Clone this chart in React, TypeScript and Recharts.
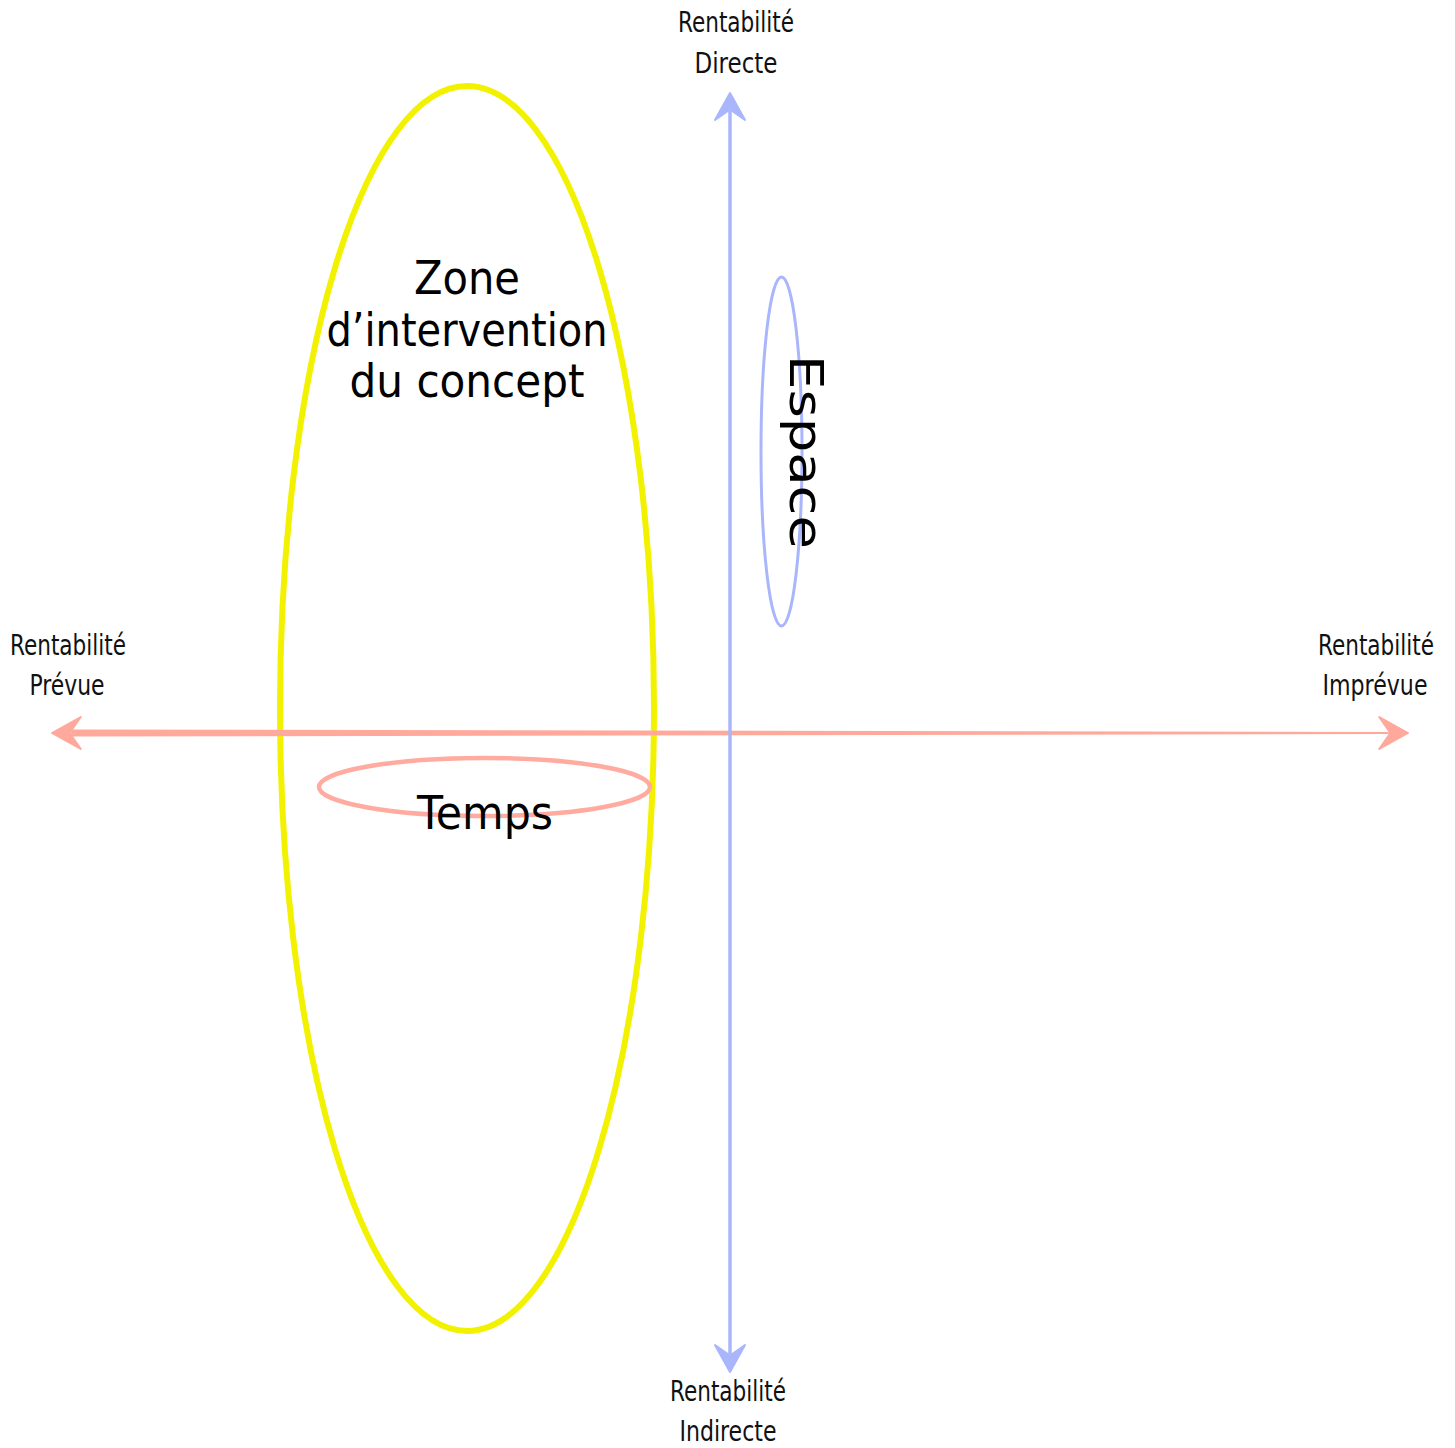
import React from 'react';
import {
  ComposedChart,
  ReferenceArea,
  ReferenceLine,
  Scatter,
  XAxis,
  YAxis,
} from 'recharts';

// Canvas-like value space: x 0..1455 left→right, y 0..1448 top→bottom
const X_DOMAIN: [number, number] = [0, 1455];
const Y_DOMAIN: [number, number] = [0, 1448];

// Two axes of the diagram (start → end, both ends carry an arrow head)
const axesLines = [
  { id: 'temps', x1: 52, y1: 733, x2: 1408, y2: 733 },
  { id: 'espace', x1: 730, y1: 93, x2: 730, y2: 1372 },
];

// Ellipse zones, given by their bounding box
const zones = [
  { id: 'concept', x1: 280, x2: 654, y1: 86, y2: 1331 },
  { id: 'temps', x1: 319, x2: 650, y1: 758, y2: 816 },
  { id: 'espace', x1: 761, x2: 802, y1: 277, y2: 626 },
];

// Pole labels at the arrow ends
const poleLabels = [
  { x: 736, y: 32, text: 'Rentabilité' },
  { x: 736, y: 73, text: 'Directe' },
  { x: 68, y: 655, text: 'Rentabilité' },
  { x: 67, y: 695, text: 'Prévue' },
  { x: 1376, y: 655, text: 'Rentabilité' },
  { x: 1375, y: 695, text: 'Imprévue' },
  { x: 728, y: 1401, text: 'Rentabilité' },
  { x: 728, y: 1441, text: 'Indirecte' },
];

// Zone titles
const zoneLabels = [
  { x: 467, y: 294, text: 'Zone', rotate: 0 },
  { x: 467, y: 346, text: 'd\u2019intervention', rotate: 0 },
  { x: 467, y: 397, text: 'du concept', rotate: 0 },
  { x: 485, y: 829, text: 'Temps', rotate: 0 },
  { x: 790, y: 452, text: 'Espace', rotate: 90 },
];

// rendered width of each text, px
const textWidths: Record<string, number> = {
  Rentabilité: 116,
  Directe: 83,
  Prévue: 75,
  Imprévue: 105,
  Indirecte: 97,
  Zone: 106,
  'd\u2019intervention': 281,
  'du concept': 235,
  Temps: 136,
  Espace: 194,
};

const zoneStyle: Record<string, { stroke: string; width: number }> = {
  concept: { stroke: '#f2f200', width: 6 },
  temps: { stroke: '#ffab9f', width: 4.5 },
  espace: { stroke: '#a9b6fb', width: 3 },
};

const axisStyle: Record<string, { color: string; start: number; end: number; head: number }> = {
  temps: { color: '#ffa99c', start: 7, end: 2, head: 16 },
  espace: { color: '#a9b6fb', start: 3.5, end: 3.5, head: 15 },
};

const POLE_FONT = "'Liberation Sans Narrow', 'DejaVu Sans Condensed', sans-serif";
const ZONE_FONT = "'DejaVu Sans', Inter, sans-serif";

function headPath(tx: number, ty: number, ux: number, uy: number, size: number) {
  // ux,uy: unit vector pointing to the tip
  const px = -uy;
  const py = ux;
  const back = size * 1.8;
  const notch = size * 1.1;
  const bx = tx - ux * back;
  const by = ty - uy * back;
  const nx = tx - ux * notch;
  const ny = ty - uy * notch;
  return `M${tx},${ty} L${bx + px * size},${by + py * size} L${nx},${ny} L${bx - px * size},${by - py * size} Z`;
}

function ArrowAxis(props: any) {
  const { x1, y1, x2, y2, id } = props;
  const st = axisStyle[id];
  const len = Math.hypot(x2 - x1, y2 - y1);
  const ux = (x2 - x1) / len;
  const uy = (y2 - y1) / len;
  const px = -uy;
  const py = ux;
  const inset = st.head * 1.2;
  const sx = x1 + ux * inset;
  const sy = y1 + uy * inset;
  const ex = x2 - ux * inset;
  const ey = y2 - uy * inset;
  const a = st.start / 2;
  const b = st.end / 2;
  const body = `M${sx + px * a},${sy + py * a} L${ex + px * b},${ey + py * b} L${ex - px * b},${ey - py * b} L${sx - px * a},${sy - py * a} Z`;
  return (
    <g>
      <path d={body} fill={st.color} />
      <path d={headPath(x1, y1, -ux, -uy, st.head)} fill={st.color} stroke={st.color} strokeWidth={2} strokeLinejoin="round" />
      <path d={headPath(x2, y2, ux, uy, st.head)} fill={st.color} stroke={st.color} strokeWidth={2} strokeLinejoin="round" />
    </g>
  );
}

function ZoneEllipse(props: any) {
  const { x, y, width, height, id } = props;
  const st = zoneStyle[id];
  return (
    <ellipse
      cx={x + width / 2}
      cy={y + height / 2}
      rx={Math.abs(width) / 2}
      ry={Math.abs(height) / 2}
      fill="none"
      stroke={st.stroke}
      strokeWidth={st.width}
    />
  );
}

function PoleText(props: any) {
  const { cx, cy, payload } = props;
  return (
    <text
      x={cx}
      y={cy}
      textAnchor="middle"
      fontFamily={POLE_FONT}
      fontSize={28}
      fill="#111"
      textLength={textWidths[payload.text]}
      lengthAdjust="spacingAndGlyphs"
    >
      {payload.text}
    </text>
  );
}

function ZoneText(props: any) {
  const { cx, cy, payload } = props;
  return (
    <text
      x={cx}
      y={cy}
      textAnchor="middle"
      fontFamily={ZONE_FONT}
      fontSize={46}
      fill="#000"
      textLength={textWidths[payload.text]}
      lengthAdjust="spacingAndGlyphs"
      transform={payload.rotate ? `rotate(${payload.rotate}, ${cx}, ${cy})` : undefined}
    >
      {payload.text}
    </text>
  );
}

export default function App() {
  return (
    <div style={{ position: 'absolute', left: 0, top: 0, width: 1455, height: 1448, background: '#fff' }}>
      <ComposedChart width={1455} height={1448} margin={{ top: 0, right: 0, bottom: 0, left: 0 }}>
        <XAxis type="number" dataKey="x" domain={X_DOMAIN} hide allowDataOverflow />
        <YAxis type="number" dataKey="y" domain={Y_DOMAIN} reversed hide allowDataOverflow />

        {zones.map((z) => (
          <ReferenceArea
            key={z.id}
            x1={z.x1}
            x2={z.x2}
            y1={z.y1}
            y2={z.y2}
            ifOverflow="visible"
            shape={(p: any) => <ZoneEllipse {...p} id={z.id} />}
          />
        ))}

        {axesLines.map((a) => (
          <ReferenceLine
            key={a.id}
            segment={[
              { x: a.x1, y: a.y1 },
              { x: a.x2, y: a.y2 },
            ]}
            ifOverflow="visible"
            shape={(p: any) => <ArrowAxis {...p} id={a.id} />}
          />
        ))}

        <Scatter data={poleLabels} shape={PoleText} isAnimationActive={false} />
        <Scatter data={zoneLabels} shape={ZoneText} isAnimationActive={false} />
      </ComposedChart>
    </div>
  );
}
